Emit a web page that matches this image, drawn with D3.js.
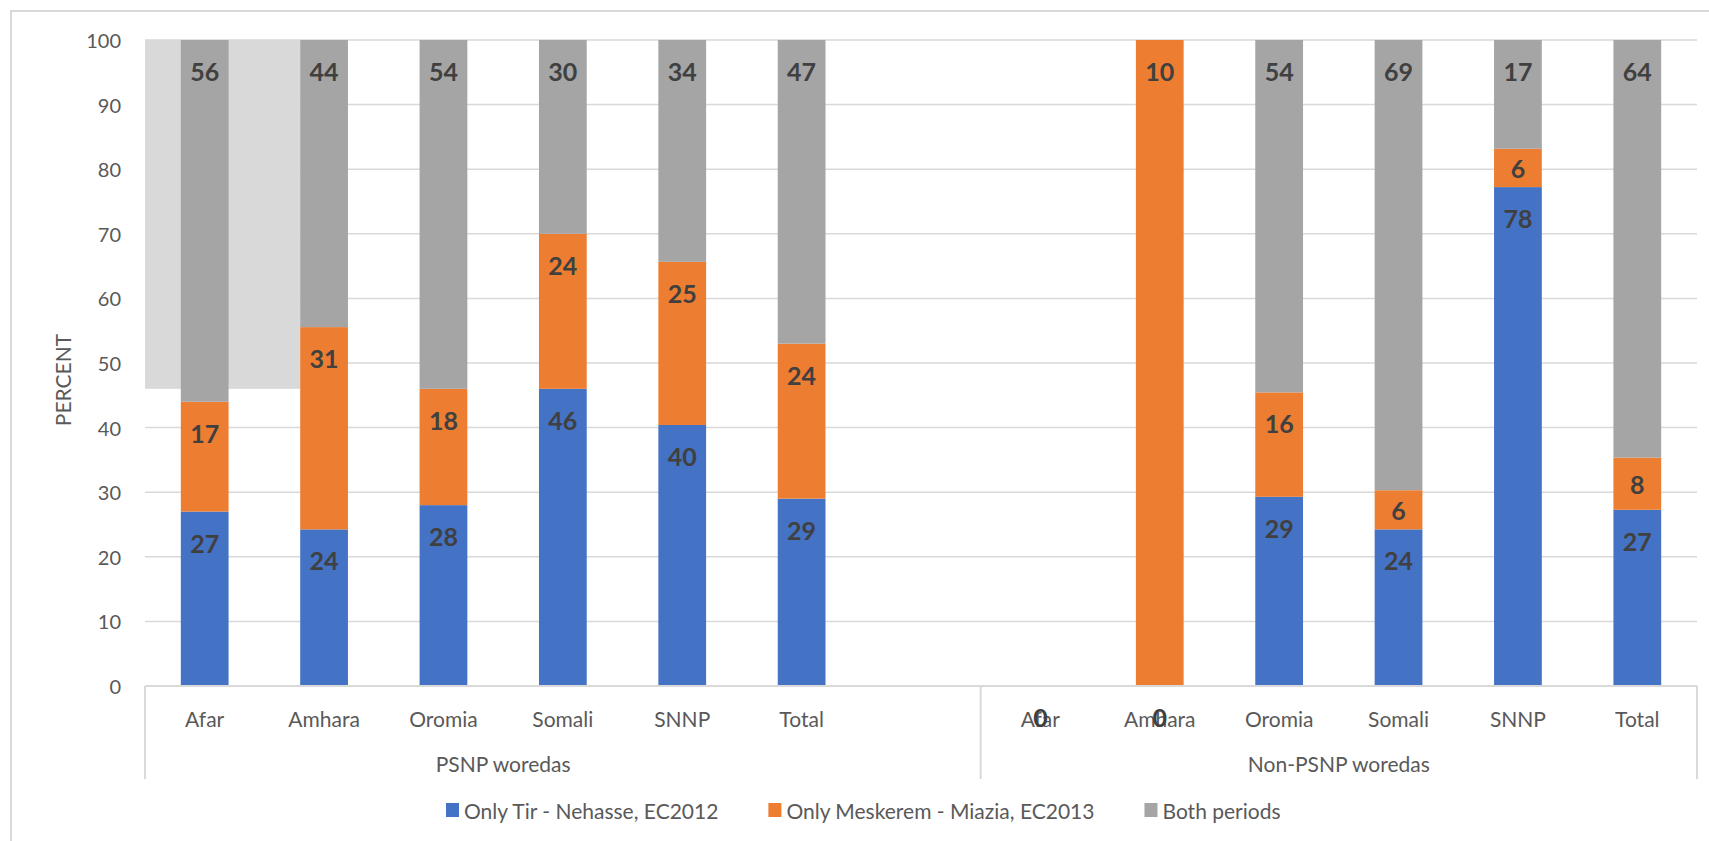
<!DOCTYPE html>
<html>
<head>
<meta charset="utf-8">
<script src="https://cdn.jsdelivr.net/npm/d3@7"></script>
<style>
  html, body { margin: 0; padding: 0; background: #ffffff; }
  svg { display: block; font-family: Lato, "Open Sans", sans-serif; }
</style>
</head>
<body>
<svg id="chart" width="1709" height="841"></svg>
<script>
// Regions shown under each woreda group
const regions = ["Afar", "Amhara", "Oromia", "Somali", "SNNP", "Total"];
const groups = ["PSNP woredas", "Non-PSNP woredas"];

// Series values per group (percent); null = no value reported
const onlyTirPSNP       = [27, 24, 28, 46, 40, 29];
const onlyTirNonPSNP    = [0, 0, 29, 24, 78, 27];
const onlyMeskeremPSNP    = [17, 31, 18, 24, 25, 24];
const onlyMeskeremNonPSNP = [null, 10, 16, 6, 6, 8];
const bothPSNP    = [56, 44, 54, 30, 34, 47];
const bothNonPSNP = [null, null, 54, 69, 17, 64];

const seriesNames = ["Only Tir - Nehasse, EC2012", "Only Meskerem - Miazia, EC2013", "Both periods"];
const seriesColors = ["#4472C4", "#ED7D31", "#A5A5A5"];
const yTicks = [0, 10, 20, 30, 40, 50, 60, 70, 80, 90, 100];
const yTitle = "PERCENT";
const shadeFloor = 46;   // lower edge of the shaded panel behind the first two columns

// Build the category rows: six PSNP columns, one empty spacer, six Non-PSNP columns
const keys = ["tir", "mes", "both"];
const rows = [];
regions.forEach((r, i) => rows.push({ id: "p" + i, group: 0, region: r,
  tir: onlyTirPSNP[i], mes: onlyMeskeremPSNP[i], both: bothPSNP[i] }));
rows.push({ id: "gap", group: -1, region: "", tir: null, mes: null, both: null });
regions.forEach((r, i) => rows.push({ id: "n" + i, group: 1, region: r,
  tir: onlyTirNonPSNP[i], mes: onlyMeskeremNonPSNP[i], both: bothNonPSNP[i] }));

const svg = d3.select("#chart");
const plot = { left: 145, right: 1697, top: 40, bottom: 686 };

const x = d3.scaleBand()
  .domain(rows.map(d => d.id))
  .range([plot.left, plot.right])
  .paddingInner(0.6)
  .paddingOuter(0.3);

const y = d3.scaleLinear().domain([0, 100]).range([plot.bottom, plot.top]);

// 100% stacked layout
const stack = d3.stack()
  .keys(keys)
  .value((d, k) => d[k] || 0)
  .offset(d3.stackOffsetExpand);
const stacked = stack(rows);

// Outer chart frame
svg.append("path")
  .attr("d", "M11,841 V11 H1709")
  .attr("fill", "none")
  .attr("stroke", "#d9d9d9")
  .attr("stroke-width", 2);

// Gridlines
svg.append("g")
  .selectAll("line")
  .data(yTicks.filter(t => t > 0))
  .join("line")
  .attr("x1", plot.left).attr("x2", plot.right)
  .attr("y1", d => y(d)).attr("y2", d => y(d))
  .attr("stroke", "#d9d9d9")
  .attr("stroke-width", 1.5);

// Shaded panel behind the first two PSNP columns
svg.append("rect")
  .attr("x", plot.left)
  .attr("y", y(100))
  .attr("width", x("p1") - plot.left)
  .attr("height", y(shadeFloor) - y(100))
  .attr("fill", "#d9d9d9");

// Stacked columns
const layer = svg.append("g")
  .selectAll("g")
  .data(stacked)
  .join("g")
  .attr("fill", (d, i) => seriesColors[i]);

layer.selectAll("rect")
  .data(d => d.filter(s => s.data.group >= 0))
  .join("rect")
  .attr("x", s => x(s.data.id))
  .attr("width", x.bandwidth())
  .attr("y", s => y(s[1] * 100))
  .attr("height", s => y(s[0] * 100) - y(s[1] * 100));

// Value axis labels
svg.append("g")
  .selectAll("text")
  .data(yTicks)
  .join("text")
  .attr("x", 121)
  .attr("y", d => y(d))
  .attr("text-anchor", "end")
  .attr("dominant-baseline", "central")
  .attr("font-size", 20)
  .attr("fill", "#595959")
  .text(d => d);

svg.append("text")
  .attr("transform", `translate(62,${(plot.top + plot.bottom) / 2 + 17}) rotate(-90)`)
  .attr("text-anchor", "middle")
  .attr("dominant-baseline", "central")
  .attr("font-size", 21)
  .attr("fill", "#595959")
  .text(yTitle);

// Category axis: baseline, group dividers, labels
const axisG = svg.append("g");
axisG.append("line")
  .attr("x1", plot.left).attr("x2", plot.right)
  .attr("y1", plot.bottom).attr("y2", plot.bottom)
  .attr("stroke", "#d9d9d9").attr("stroke-width", 2);

const step = x.step();
// dividers: left edge, between the spacer and the first Non-PSNP column, right edge
const dividerX = [plot.left, x("n0") - x.paddingInner() * step / 2, plot.right];
axisG.selectAll("line.div")
  .data(dividerX)
  .join("line")
  .attr("class", "div")
  .attr("x1", d => d).attr("x2", d => d)
  .attr("y1", plot.bottom).attr("y2", 779)
  .attr("stroke", "#d9d9d9").attr("stroke-width", 2);

axisG.selectAll("text.cat")
  .data(rows.filter(d => d.group >= 0))
  .join("text")
  .attr("class", "cat")
  .attr("x", d => x(d.id) + x.bandwidth() / 2)
  .attr("y", 718)
  .attr("text-anchor", "middle")
  .attr("dominant-baseline", "central")
  .attr("font-size", 21)
  .attr("fill", "#595959")
  .text(d => d.region);

axisG.selectAll("text.grp")
  .data(groups)
  .join("text")
  .attr("class", "grp")
  .attr("x", (g, gi) => {
    const ids = rows.filter(d => d.group === gi).map(d => d.id);
    return (x(ids[0]) + x(ids[ids.length - 1]) + x.bandwidth()) / 2;
  })
  .attr("y", 763)
  .attr("text-anchor", "middle")
  .attr("dominant-baseline", "central")
  .attr("font-size", 21)
  .attr("fill", "#595959")
  .text(g => g);

// Data labels, placed just inside the top of each segment (centred when the segment is short)
const labels = [];
stacked.forEach((ser, si) => {
  ser.forEach(s => {
    const v = s.data[keys[si]];
    if (s.data.group >= 0 && v !== null && v !== undefined) {
      const yTop = y(s[1] * 100);
      const yMid = (y(s[0] * 100) + yTop) / 2;
      const ly = s[1] > s[0] ? Math.min(yTop + 31, yMid) : yTop + 31;
      labels.push({ id: s.data.id, ly, value: v });
    }
  });
});
svg.append("g")
  .selectAll("text")
  .data(labels)
  .join("text")
  .attr("x", d => x(d.id) + x.bandwidth() / 2)
  .attr("y", d => d.ly)
  .attr("text-anchor", "middle")
  .attr("dominant-baseline", "central")
  .attr("font-size", 25)
  .attr("font-weight", "bold")
  .attr("fill", "#404040")
  .text(d => d.value);

// Legend
const legend = svg.append("g").attr("transform", "translate(446,810)");
let lx = 0;
seriesNames.forEach((name, i) => {
  const item = legend.append("g").attr("transform", `translate(${lx},0)`);
  item.append("rect")
    .attr("x", 0).attr("y", -7)
    .attr("width", 13).attr("height", 14)
    .attr("fill", seriesColors[i]);
  const t = item.append("text")
    .attr("x", 18).attr("y", 0)
    .attr("dominant-baseline", "central")
    .attr("font-size", 21)
    .attr("fill", "#595959")
    .text(name);
  lx += 18 + t.node().getComputedTextLength() + 50;
});
</script>
</body>
</html>
